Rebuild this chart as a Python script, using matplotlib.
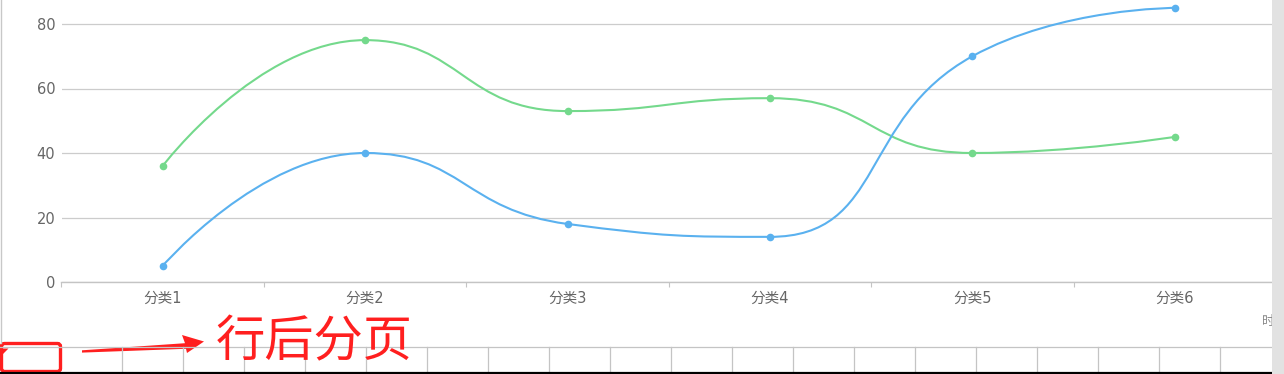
import matplotlib
matplotlib.use("Agg")
import matplotlib.pyplot as plt
import numpy as np
from matplotlib.path import Path
from matplotlib.patches import PathPatch, Rectangle, Polygon, FancyBboxPatch

plt.rcParams['font.family'] = ['DejaVu Sans', 'Noto Sans CJK SC']

categories = ['分类1', '分类2', '分类3', '分类4', '分类5', '分类6']
series_blue = [5, 40, 18, 14, 70, 85]
series_green = [36, 75, 53, 57, 40, 45]
y_ticks = [0, 20, 40, 60, 80]

BLUE = '#5ab1ef'
GREEN = '#74d98c'
W, H = 1284, 374

fig = plt.figure(figsize=(W / 100, H / 100), dpi=100)
fig.patch.set_facecolor('white')

# main chart axes (pixel geometry of the reference)
left_px, right_px = 61.5, 1276
bottom_px = 282
ax = fig.add_axes([left_px / W, (H - bottom_px) / H, (right_px - left_px) / W, bottom_px / H])
ax.set_xlim(-0.5, len(categories) - 0.5)
ax.set_ylim(0, 80 * bottom_px / (282 - 24))
ax.set_yticks(y_ticks)
ax.set_yticklabels([str(v) for v in y_ticks])
ax.set_xticks(range(len(categories)))
ax.set_xticklabels(categories)
ax.set_xticks(np.arange(-0.5, len(categories), 1), minor=True)
for s in ['top', 'right', 'left']:
    ax.spines[s].set_visible(False)
ax.spines['bottom'].set_color('#c4c4c4')
ax.spines['bottom'].set_linewidth(1.0)
ax.tick_params(axis='y', length=0, pad=4.5, labelsize=10.5, labelcolor='#666666')
ax.tick_params(axis='x', which='major', length=0, pad=6.5, labelsize=10.5, labelcolor='#666666')
ax.tick_params(axis='x', which='minor', length=3.5, width=0.8, color='#c4c4c4')
ax.yaxis.grid(True, color='#cccccc', linewidth=0.9)
ax.set_axisbelow(True)
ax.patch.set_alpha(0)


def echarts_smooth_path(xd, yd, smooth=0.5):
    pts = ax.transData.transform(np.column_stack([xd, yd]))
    n = len(pts)
    verts = [tuple(pts[0])]
    codes = [Path.MOVETO]
    cp0 = pts[0].copy()
    for i in range(1, n):
        prev = pts[i - 1]
        p = pts[i]
        if i == n - 1:
            cp1 = p.copy()
            ncp0 = p.copy()
        else:
            nxt = pts[i + 1]
            v = nxt - prev
            lp = np.hypot(*(p - prev))
            ln = np.hypot(*(nxt - p))
            r = ln / (ln + lp)
            ncp0 = p + v * smooth * r
            ncp0 = np.minimum(ncp0, np.maximum(nxt, p))
            ncp0 = np.maximum(ncp0, np.minimum(nxt, p))
            v = ncp0 - p
            cp1 = p - v * lp / ln
            cp1 = np.minimum(cp1, np.maximum(prev, p))
            cp1 = np.maximum(cp1, np.minimum(prev, p))
            v = p - cp1
            ncp0 = p + v * ln / lp
        verts += [tuple(cp0), tuple(cp1), tuple(p)]
        codes += [Path.CURVE4] * 3
        cp0 = ncp0
    data_verts = ax.transData.inverted().transform(np.array(verts))
    return Path(data_verts, codes)


xs = np.arange(len(categories))
for vals, col in [(series_green, GREEN), (series_blue, BLUE)]:
    path = echarts_smooth_path(xs, vals)
    ax.add_patch(PathPatch(path, facecolor='none', edgecolor=col, linewidth=1.5,
                           clip_on=False, zorder=3))
    ax.plot(xs, vals, linestyle='none', marker='o', markersize=5.5,
            color=col, markeredgewidth=0, zorder=4, clip_on=False)

# overlay in pixel coordinates for the spreadsheet decorations
ov = fig.add_axes([0, 0, 1, 1], zorder=5)
ov.set_xlim(0, W)
ov.set_ylim(H, 0)
ov.axis('off')
ov.patch.set_alpha(0)

# left border
ov.plot([1, 1], [0, 343], color='#c8c8c8', linewidth=1.0)
# partially hidden axis title (cut by the scrollbar in the reference)
ov.text(1262, 322, '时', fontsize=9, color='#888888', ha='left', va='center',
        family=['Noto Sans CJK SC', 'DejaVu Sans'])
# spreadsheet grid
ov.plot([0, 1272], [347, 347], color='#c4c4c4', linewidth=0.9)
for xv in np.arange(122, 1225, 61):
    ov.plot([xv, xv], [347, 372], color='#c4c4c4', linewidth=0.9)
ov.plot([0, 1272], [372.5, 372.5], color='black', linewidth=1.6)

RED = '#ff1f1f'
ov.add_patch(FancyBboxPatch((1.5, 343.5), 59, 28, boxstyle='round,pad=0,rounding_size=3',
                            facecolor='none', edgecolor=RED, linewidth=2.4))
ov.add_patch(Polygon([(3, 348.5), (8.5, 348.5), (3, 354)], closed=True,
                     facecolor=RED, edgecolor='none'))
ov.add_patch(Polygon([(82, 350.3), (185, 343.2), (182, 335), (204, 341.5), (187, 353),
                      (186, 348.8), (82, 352.6)], closed=True, facecolor=RED, edgecolor='none'))
ov.text(216, 342, '行后分页', fontsize=35.5, color=RED, ha='left', va='center',
        family=['Noto Sans CJK SC', 'DejaVu Sans'])

# scrollbar strip
ov.add_patch(Rectangle((1272, 0), 12, H, facecolor='#e2e2e2', edgecolor='none', zorder=10))

fig.savefig('out.png', dpi=100, facecolor='white')
